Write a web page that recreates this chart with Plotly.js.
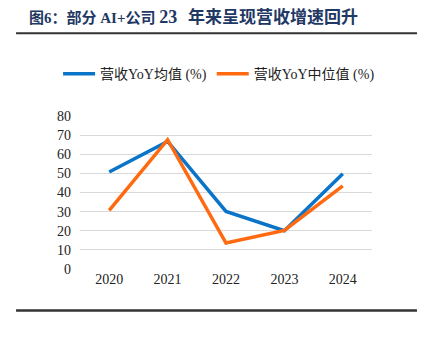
<!DOCTYPE html>
<html><head><meta charset="utf-8">
<script src="https://cdn.plot.ly/plotly-3.0.1.min.js"></script>
<style>body{margin:0;background:#fff}#c{width:421px;height:344px}</style>
</head><body><div id="c"></div>
<script>
const years = ['2020','2021','2022','2023','2024'];
const meanYoY = [50.7, 66.7, 30.1, 20.0, 49.8];
const medianYoY = [30.6, 67.6, 13.6, 20.2, 43.5];
const seriesNames = ['营收YoY均值 (%)', '营收YoY中位值 (%)'];
const titlePart1 = '图6：部分 AI+公司 ';
const titleYear = '23';
const titlePart2 = '年来呈现营收增速回升';

const fam = '"Liberation Serif", "Times New Roman", "Noto Sans CJK SC", serif';
const traces = [
  {x: years, y: meanYoY, name: seriesNames[0], type: 'scatter', mode: 'lines',
   line: {color: '#0A74C9', width: 3.5}},
  {x: years, y: medianYoY, name: seriesNames[1], type: 'scatter', mode: 'lines',
   line: {color: '#FF6A10', width: 3.5}}
];
const layout = {
  width: 421, height: 344,
  margin: {l: 80, r: 49, t: 116, b: 75},
  paper_bgcolor: '#fff', plot_bgcolor: '#fff',
  font: {family: fam, size: 14, color: '#222'},
  xaxis: {type: 'category', range: [-0.5, 4.5], showgrid: false, zeroline: false,
          showline: false, ticks: '', tickfont: {family: fam, size: 14, color: '#222'}},
  yaxis: {range: [0, 80], dtick: 10, showgrid: true, gridcolor: '#D9D9D9', gridwidth: 1,
          zeroline: false, showline: false, ticks: '', ticklabelstandoff: 8,
          tickfont: {family: fam, size: 14, color: '#222'}},
  showlegend: true,
  legend: {orientation: 'h', x: -0.075, xanchor: 'left', y: 1.274, yanchor: 'middle',
           font: {family: fam, size: 14, color: '#222'}, itemwidth: 32, tracegroupgap: 0},
  annotations: [
    {text: '<b>' + titlePart1 + '<span style="font-size:18px">' + titleYear + '</span></b>',
     xref: 'paper', yref: 'paper',
     x: -0.1815, xanchor: 'left', y: 1.65, yanchor: 'middle', showarrow: false,
     font: {family: fam, size: 15, color: '#1F3864'}},
    {text: '<b>' + titlePart2 + '</b>', xref: 'paper', yref: 'paper',
     x: 0.363, xanchor: 'left', y: 1.65, yanchor: 'middle', showarrow: false,
     font: {family: fam, size: 17, color: '#1F3864'}}
  ],
  shapes: [
    {type: 'line', xref: 'paper', yref: 'paper', x0: -0.219, x1: 1.154, y0: 1.541, y1: 1.541,
     line: {color: '#333', width: 2}},
    {type: 'line', xref: 'paper', yref: 'paper', x0: -0.219, x1: 1.154, y0: -0.272, y1: -0.272,
     line: {color: '#333', width: 2.5}}
  ]
};
Plotly.newPlot('c', traces, layout, {displayModeBar: false, staticPlot: true});
</script></body></html>
